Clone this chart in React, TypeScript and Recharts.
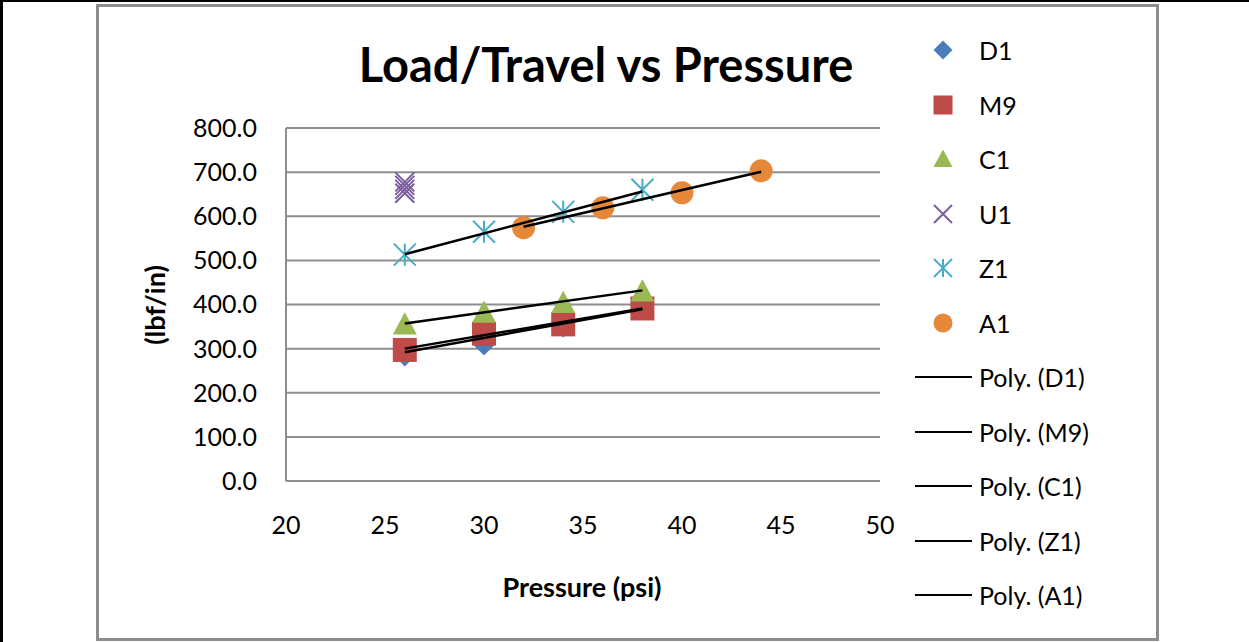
import React from "react"
import { ScatterChart, Scatter, XAxis, YAxis, CartesianGrid } from "recharts"

// (psi, lbf/in)
const xD1 = [26, 30, 34, 38]
const yD1 = [282, 307, 348, 388]
const xM9 = [26, 30, 34, 38]
const yM9 = [297, 334, 355, 391]
const xC1 = [26, 30, 34, 38]
const yC1 = [355, 382, 404, 430]
const xU1 = [26, 26, 26, 26]
const yU1 = [652, 661, 670, 678]
const xZ1 = [26, 30, 34, 38]
const yZ1 = [513, 565, 610, 660]
const xA1 = [32, 36, 40, 44]
const yA1 = [574, 619, 653, 703]

// trendline ends (Excel "Poly." trendlines)
const trendX = [26, 38]
const trendD1 = [292, 389]
const trendM9 = [300, 391]
const trendC1 = [357, 432]
const trendZ1 = [514, 656]
const trendXA1 = [32, 44]
const trendA1 = [576, 701]

const xTicks = [20, 25, 30, 35, 40, 45, 50]
const yTicks = [0, 100, 200, 300, 400, 500, 600, 700, 800]

const FONT = "Lato, 'Open Sans', sans-serif"
const GRID = "#8e8e8e"

const toPts = (xs: number[], ys: number[]) => xs.map((x, i) => ({ x, y: ys[i] }))

type Kind = "diamond" | "square" | "triangle" | "x" | "star" | "circle"

const Marker = ({ kind, cx, cy, s, color }: { kind: Kind; cx: number; cy: number; s: number; color: string }) => {
  const h = s / 2
  switch (kind) {
    case "diamond":
      return <path d={`M${cx},${cy - h}L${cx + h},${cy}L${cx},${cy + h}L${cx - h},${cy}Z`} fill={color} />
    case "square":
      return <rect x={cx - h} y={cy - h} width={s} height={s} fill={color} />
    case "triangle":
      return <path d={`M${cx},${cy - h}L${cx + h},${cy + h * 0.85}L${cx - h},${cy + h * 0.85}Z`} fill={color} />
    case "x":
      return (
        <path
          d={`M${cx - h},${cy - h}L${cx + h},${cy + h}M${cx + h},${cy - h}L${cx - h},${cy + h}`}
          stroke={color}
          strokeWidth={2}
          fill="none"
        />
      )
    case "star":
      return (
        <path
          d={`M${cx - h},${cy - h}L${cx + h},${cy + h}M${cx + h},${cy - h}L${cx - h},${cy + h}M${cx},${cy - h}L${cx},${cy + h}`}
          stroke={color}
          strokeWidth={2}
          fill="none"
        />
      )
    default:
      return <circle cx={cx} cy={cy} r={h} fill={color} />
  }
}

const series = [
  { name: "D1", kind: "diamond" as Kind, color: "#4a7ebb", size: 20, pts: toPts(xD1, yD1) },
  { name: "M9", kind: "square" as Kind, color: "#be4b48", size: 24, pts: toPts(xM9, yM9) },
  { name: "C1", kind: "triangle" as Kind, color: "#98b954", size: 24, pts: toPts(xC1, yC1) },
  { name: "U1", kind: "x" as Kind, color: "#7d5fa0", size: 19, pts: toPts(xU1, yU1) },
  { name: "Z1", kind: "star" as Kind, color: "#4bacc6", size: 22, pts: toPts(xZ1, yZ1) },
  { name: "A1", kind: "circle" as Kind, color: "#e5883a", size: 23, pts: toPts(xA1, yA1) },
]

const trends = [
  { name: "Poly. (D1)", pts: toPts(trendX, trendD1) },
  { name: "Poly. (M9)", pts: toPts(trendX, trendM9) },
  { name: "Poly. (C1)", pts: toPts(trendX, trendC1) },
  { name: "Poly. (Z1)", pts: toPts(trendX, trendZ1) },
  { name: "Poly. (A1)", pts: toPts(trendXA1, trendA1) },
]

const LegendBox = () => (
  <div style={{ position: "absolute", left: 915, top: 23, fontFamily: FONT, fontSize: 25, color: "#000" }}>
    {series.map((s) => (
      <div key={s.name} style={{ height: 54.5, display: "flex", alignItems: "center" }}>
        <svg width={57} height={24} style={{ display: "block" }}>
          <Marker kind={s.kind} cx={28} cy={12} s={s.kind === "x" || s.kind === "star" ? 18 : 19} color={s.color} />
        </svg>
        <span style={{ marginLeft: 7 }}>{s.name}</span>
      </div>
    ))}
    {trends.map((t) => (
      <div key={t.name} style={{ height: 54.5, display: "flex", alignItems: "center" }}>
        <svg width={57} height={24} style={{ display: "block" }}>
          <line x1={0} y1={12} x2={57} y2={12} stroke="#000" strokeWidth={2} />
        </svg>
        <span style={{ marginLeft: 7 }}>{t.name}</span>
      </div>
    ))}
  </div>
)

export default function App() {
  return (
    <div style={{ position: "absolute", left: 0, top: 0, width: 1249, height: 642, background: "#fff", overflow: "hidden" }}>
      <div style={{ position: "absolute", left: 0, top: 0, width: 1249, height: 2, background: "#000" }} />
      <div style={{ position: "absolute", left: 0, top: 0, width: 3, height: 642, background: "#000" }} />
      <div
        style={{
          position: "absolute",
          left: 96,
          top: 4,
          width: 1063,
          height: 637,
          border: "3px solid #8c8c8c",
          boxSizing: "border-box",
        }}
      />

      <div
        style={{
          position: "absolute",
          left: 306,
          top: 34,
          width: 600,
          textAlign: "center",
          fontFamily: FONT,
          fontWeight: 700,
          fontSize: 47,
          lineHeight: "60px",
          color: "#000",
          whiteSpace: "nowrap",
        }}
      >
        Load/Travel vs Pressure
      </div>

      <div style={{ position: "absolute", left: 0, top: 0 }}>
        <ScatterChart width={1249} height={642} margin={{ top: 128, right: 369, bottom: 101, left: 186 }}>
          <CartesianGrid horizontal vertical={false} stroke={GRID} strokeWidth={2} />
          <XAxis
            type="number"
            dataKey="x"
            domain={[20, 50]}
            ticks={xTicks}
            height={60}
            axisLine={{ stroke: GRID, strokeWidth: 2 }}
            tickLine={false}
            tickSize={0}
            tickMargin={35}
            tick={{ fill: "#000", fontSize: 25, fontFamily: FONT }}
          />
          <YAxis
            type="number"
            dataKey="y"
            domain={[0, 800]}
            ticks={yTicks}
            width={100}
            axisLine={{ stroke: GRID, strokeWidth: 2 }}
            tickLine={false}
            tickSize={0}
            tickMargin={29}
            tickFormatter={(v: number) => v.toFixed(1)}
            tick={{ fill: "#000", fontSize: 25, fontFamily: FONT }}
          />
          {series.map((s) => (
            <Scatter
              key={s.name}
              name={s.name}
              data={s.pts}
              isAnimationActive={false}
              shape={(p: any) => <Marker kind={s.kind} cx={p.cx} cy={p.cy} s={s.size} color={s.color} />}
            />
          ))}
          {trends.map((t) => (
            <Scatter
              key={t.name}
              name={t.name}
              data={t.pts}
              isAnimationActive={false}
              line={{ stroke: "#000", strokeWidth: 2.5 }}
              shape={() => <g />}
            />
          ))}
        </ScatterChart>
      </div>

      <div
        style={{
          position: "absolute",
          left: 432,
          top: 570,
          width: 300,
          textAlign: "center",
          fontFamily: FONT,
          fontWeight: 700,
          fontSize: 27,
          lineHeight: "34px",
        }}
      >
        Pressure (psi)
      </div>
      <div
        style={{
          position: "absolute",
          left: 55,
          top: 288,
          width: 200,
          textAlign: "center",
          fontFamily: FONT,
          fontWeight: 700,
          fontSize: 27,
          lineHeight: "34px",
          transform: "rotate(-90deg)",
        }}
      >
        (lbf/in)
      </div>

      <LegendBox />
    </div>
  )
}
